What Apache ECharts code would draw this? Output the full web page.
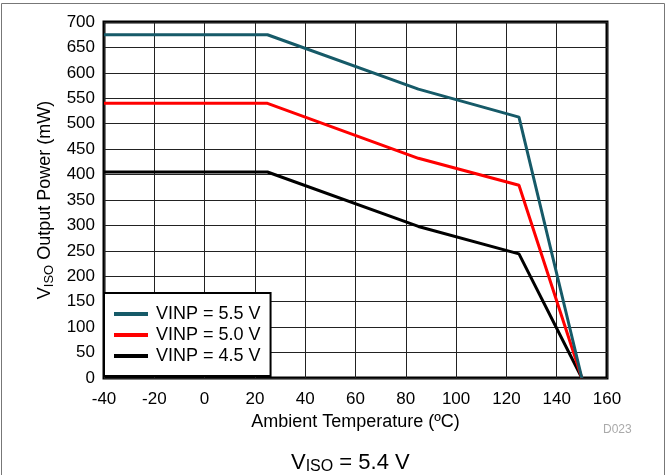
<!DOCTYPE html>
<html>
<head>
<meta charset="utf-8">
<script src="https://cdn.jsdelivr.net/npm/echarts@6/dist/echarts.min.js"></script>
<style>
  html, body { margin: 0; padding: 0; background: #fff; }
  #chart { width: 668px; height: 475px; }
</style>
</head>
<body>
<div id="chart"></div>
<script>
// data
const temps = [-40, 25, 85, 125, 150]
const vinp55 = [675, 675, 568, 513, 0]
const vinp50 = [540, 540, 432, 379, 0]
const vinp45 = [405, 405, 298, 244, 0]
const seriesNames = ['VINP = 5.5 V', 'VINP = 5.0 V', 'VINP = 4.5 V']
const colors = ['#165a68', '#ff0000', '#000000']

const font = 'Liberation Sans, Arial, sans-serif'
const chart = echarts.init(document.getElementById('chart'))

const pairs = arr => temps.map((t, i) => [t, arr[i]])

const option = {
  animation: false,
  textStyle: { fontFamily: font },
  title: {
    text: '{a|V}{b|ISO}{a| = 5.4 V}',
    left: 286,
    top: 445,
    textStyle: {
      fontWeight: 'normal',
      rich: {
        a: { fontSize: 22, color: '#000', fontFamily: font, fontWeight: 'normal' },
        b: { fontSize: 16, color: '#000', fontFamily: font, fontWeight: 'normal', padding: [9, 0, 0, 0] }
      }
    }
  },
  graphic: [
    {
      type: 'rect',
      shape: { x: 1.5, y: 3.5, width: 663, height: 480 },
      style: { fill: 'none', stroke: '#777', lineWidth: 1 },
      silent: true
    },
    {
      type: 'text',
      left: 603,
      top: 424,
      style: { text: 'D023', fill: '#aaa', fontSize: 12, fontFamily: font }
    }
  ],
  grid: {
    left: 104,
    right: 61,
    top: 22,
    bottom: 97,
    show: true,
    borderColor: '#000',
    borderWidth: 3,
    backgroundColor: 'transparent'
  },
  legend: {
    orient: 'vertical',
    left: 104,
    top: 293,
    padding: [12, 10, 11, 10],
    itemGap: 3,
    itemWidth: 34,
    itemHeight: 4,
    icon: 'rect',
    backgroundColor: '#fff',
    borderColor: '#000',
    borderWidth: 2,
    textStyle: { fontSize: 18, color: '#000', fontFamily: font, padding: [0, 0, 0, 3] },
    data: seriesNames
  },
  xAxis: {
    type: 'value',
    min: -40,
    max: 160,
    interval: 20,
    name: 'Ambient Temperature (ºC)',
    nameLocation: 'middle',
    nameGap: 35,
    nameTextStyle: { fontSize: 18, color: '#000' },
    axisLine: { show: false },
    axisTick: { show: false },
    axisLabel: { fontSize: 17, color: '#000', margin: 13 },
    splitLine: { lineStyle: { color: '#222', width: 1 } }
  },
  yAxis: {
    type: 'value',
    min: 0,
    max: 700,
    interval: 50,
    name: '{a|V}{b|ISO}{a| Output Power (mW)}',
    nameLocation: 'middle',
    nameGap: 48,
    nameTextStyle: {
      rich: {
        a: { fontSize: 18, color: '#000', fontFamily: font },
        b: { fontSize: 13, color: '#000', fontFamily: font, padding: [8, 0, 0, 0] }
      }
    },
    axisLine: { show: false },
    axisTick: { show: false },
    axisLabel: { fontSize: 17, color: '#000', margin: 9 },
    splitLine: { lineStyle: { color: '#222', width: 1 } }
  },
  series: [vinp55, vinp50, vinp45].map((arr, i) => ({
    name: seriesNames[i],
    type: 'line',
    data: pairs(arr),
    symbol: 'none',
    color: colors[i],
    lineStyle: { width: 3, color: colors[i] },
    z: 3 - i
  }))
}

chart.setOption(option)
</script>
</body>
</html>
